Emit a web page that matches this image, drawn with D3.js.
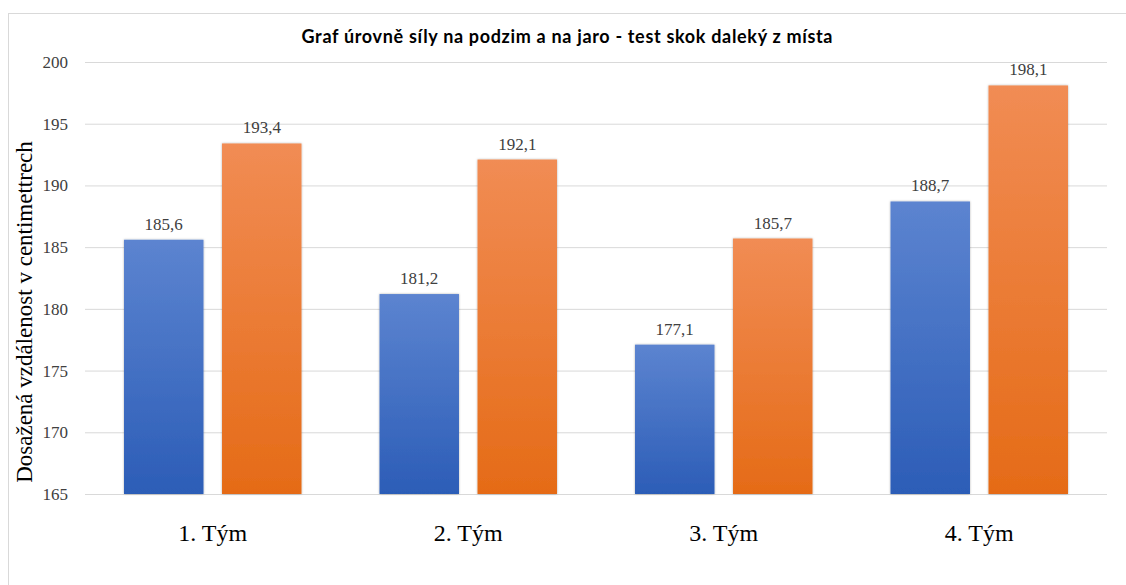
<!DOCTYPE html>
<html>
<head>
<meta charset="utf-8">
<script src="https://cdn.jsdelivr.net/npm/d3@7"></script>
<style>
  html, body { margin: 0; padding: 0; background: #fff; }
  svg { display: block; }
  .serif { font-family: 'Liberation Serif', 'Times New Roman', serif; }
</style>
</head>
<body>
<svg id="chart" width="1126" height="585"></svg>
<script>
// Teams and jump results (cm), autumn vs. spring
const teams = ["1. Tým", "2. Tým", "3. Tým", "4. Tým"];
const series = ["podzim", "jaro"];
const autumn = [185.6, 181.2, 177.1, 188.7];
const spring = [193.4, 192.1, 185.7, 198.1];
const yTicks = [165, 170, 175, 180, 185, 190, 195, 200];

const svg = d3.select("#chart");
const plot = { left: 85, right: 1107, top: 62, bottom: 494 };

// Outer frame of the chart area
svg.append("rect")
  .attr("x", 8.5).attr("y", 13.5)
  .attr("width", 1140).attr("height", 600)
  .attr("fill", "#fff").attr("stroke", "#d9d9d9").attr("stroke-width", 1);

const defs = svg.append("defs");
function grad(id, top, bottom) {
  const g = defs.append("linearGradient").attr("id", id)
    .attr("x1", 0).attr("y1", 0).attr("x2", 0).attr("y2", 1);
  g.append("stop").attr("offset", "0%").attr("stop-color", top);
  g.append("stop").attr("offset", "100%").attr("stop-color", bottom);
}
grad("gBlue", "#5c84d0", "#2c5db7");
grad("gOrange", "#f18c54", "#e56b17");
const sh = defs.append("filter").attr("id", "shadow")
  .attr("x", "-10%").attr("y", "-10%").attr("width", "120%").attr("height", "120%");
sh.append("feDropShadow").attr("dx", 0).attr("dy", 0).attr("stdDeviation", 1.2)
  .attr("flood-color", "#000").attr("flood-opacity", 0.3);

const y = d3.scaleLinear().domain([165, 200]).range([plot.bottom, plot.top]);
const x0 = d3.scaleBand().domain(teams).range([plot.left, plot.right]).padding(0);
const x1 = d3.scaleBand().domain(series).range([0, x0.bandwidth()])
  .paddingInner(0.189).paddingOuter(0.398);

// Horizontal gridlines + tick labels
const yAxis = d3.axisLeft(y).tickValues(yTicks)
  .tickSize(-(plot.right - plot.left)).tickPadding(17).tickFormat(d3.format("d"));
const gy = svg.append("g").attr("transform", `translate(${plot.left},0)`).call(yAxis)
  .attr("font-family", null);
gy.select(".domain").remove();
gy.selectAll(".tick line").attr("stroke", "#d9d9d9").attr("stroke-width", 1);
gy.selectAll(".tick text").attr("class", "serif")
  .attr("font-size", 17).attr("fill", "#404040");

// Category labels
const xAxis = d3.axisBottom(x0).tickSize(0).tickPadding(30);
const gx = svg.append("g").attr("transform", `translate(0,${plot.bottom})`).call(xAxis)
  .attr("font-family", null);
gx.select(".domain").remove();
gx.selectAll(".tick text").attr("class", "serif")
  .attr("font-size", 24).attr("fill", "#000");

// Bars
const rows = teams.map((t, i) => ({ team: t, values: [
  { key: "podzim", v: autumn[i] }, { key: "jaro", v: spring[i] }] }));
const fills = { podzim: "url(#gBlue)", jaro: "url(#gOrange)" };

const groups = svg.append("g").selectAll("g").data(rows).join("g")
  .attr("transform", d => `translate(${x0(d.team)},0)`);
groups.selectAll("rect").data(d => d.values).join("rect")
  .attr("x", d => x1(d.key)).attr("width", x1.bandwidth())
  .attr("y", d => y(d.v)).attr("height", d => y(165) - y(d.v))
  .attr("fill", d => fills[d.key]).attr("filter", "url(#shadow)");
groups.selectAll("text").data(d => d.values).join("text")
  .attr("class", "serif")
  .attr("x", d => x1(d.key) + x1.bandwidth() / 2)
  .attr("y", d => y(d.v) - 10)
  .attr("text-anchor", "middle")
  .attr("font-size", 17).attr("fill", "#404040")
  .text(d => d3.format(".1f")(d.v).replace(".", ","));

// Y axis title
svg.append("text")
  .attr("class", "serif")
  .attr("transform", `translate(32,312) rotate(-90)`)
  .attr("text-anchor", "middle")
  .attr("font-size", 23).attr("fill", "#000")
  .text("Dosažená vzdálenost v centimettrech");

// Chart title
svg.append("text")
  .attr("x", 567).attr("y", 43)
  .attr("text-anchor", "middle")
  .attr("font-family", "Lato, 'Open Sans', sans-serif")
  .attr("font-weight", "bold")
  .attr("font-size", 18).attr("fill", "#000")
  .attr("textLength", 531).attr("lengthAdjust", "spacing")
  .text("Graf úrovně síly na podzim a na jaro - test skok daleký z místa");
</script>
</body>
</html>
